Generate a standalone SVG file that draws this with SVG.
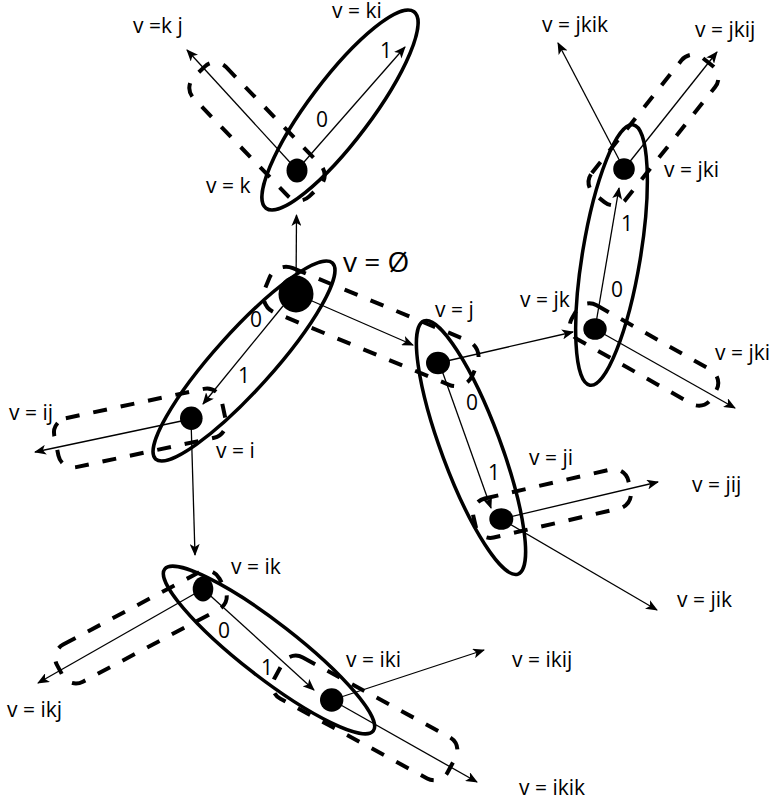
<svg xmlns="http://www.w3.org/2000/svg" width="777" height="806" viewBox="0 0 777 806">
<defs>
<style>
.cap{fill:none;stroke:#000;stroke-width:4;stroke-dasharray:14 14}
.ell{fill:none;stroke:#000;stroke-width:3.5}
.con{fill:none;stroke:#000;stroke-width:1.3;marker-end:url(#ah)}
.dot{fill:#000}
text{font-family:"Open Sans","Noto Sans","DejaVu Sans",sans-serif;font-size:21px;fill:#000}
.big{font-size:28px}
</style>
<marker id="ah" viewBox="0 0 12 10" refX="11" refY="5" markerWidth="12" markerHeight="10" markerUnits="userSpaceOnUse" orient="auto">
<path d="M0,0 L12,5 L0,10 L3,5 z" fill="#000"/>
</marker>
</defs>
<rect width="777" height="806" fill="#fff"/>
<g id="regions">
<rect class="cap" x="174" y="109" width="166" height="45" rx="15" transform="rotate(46 257 131.5)"/>
<rect class="cap" x="258.5" y="302.5" width="225" height="48" rx="18" transform="rotate(22.5 371 326.5)"/>
<rect class="cap" x="54.5" y="403" width="171" height="50" rx="15" transform="rotate(-12 140 428)"/>
<rect class="cap" x="49" y="606" width="184" height="42" rx="15" transform="rotate(-28 141 627)"/>
<rect class="cap" x="266.5" y="694.5" width="197" height="47" rx="15" transform="rotate(28.5 365 718)"/>
<rect class="cap" x="472.5" y="483.5" width="159" height="40" rx="15" transform="rotate(-13 552 503.5)"/>
<rect class="cap" x="563.5" y="335" width="161" height="39" rx="15" transform="rotate(29.5 644 354.5)"/>
<rect class="cap" x="566.5" y="108.5" width="174" height="43" rx="15" transform="rotate(-51.5 653.5 130)"/>
<ellipse class="ell" cx="244" cy="361" rx="132" ry="29" transform="rotate(-48 244 361)"/>
<ellipse class="ell" cx="340" cy="110" rx="123" ry="31" transform="rotate(-53 340 110)"/>
<ellipse class="ell" cx="471" cy="447.5" rx="135" ry="29.5" transform="rotate(69.6 471 447.5)"/>
<ellipse class="ell" cx="611.5" cy="255" rx="132" ry="29" transform="rotate(99.4 611.5 255)"/>
<ellipse class="ell" cx="269" cy="650" rx="132" ry="27.5" transform="rotate(37.8 269 650)"/>
</g>
<g id="connectors">
<line class="con" x1="296" y1="294" x2="296.5" y2="215"/>
<line class="con" x1="296" y1="294" x2="413" y2="345"/>
<line class="con" x1="283" y1="306" x2="203" y2="404"/>
<line class="con" x1="191" y1="419" x2="35" y2="452"/>
<line class="con" x1="191" y1="419" x2="195" y2="555"/>
<line class="con" x1="297" y1="170" x2="187" y2="50"/>
<line class="con" x1="297" y1="170" x2="405" y2="47"/>
<line class="con" x1="438" y1="363" x2="573" y2="332"/>
<line class="con" x1="440" y1="365" x2="491" y2="508"/>
<line class="con" x1="595" y1="329" x2="735" y2="408"/>
<line class="con" x1="595" y1="329" x2="619" y2="188"/>
<line class="con" x1="624" y1="169" x2="558" y2="43"/>
<line class="con" x1="624" y1="169" x2="717" y2="52"/>
<line class="con" x1="501" y1="519" x2="658" y2="482"/>
<line class="con" x1="501" y1="519" x2="657" y2="610"/>
<line class="con" x1="203" y1="589" x2="38" y2="683"/>
<line class="con" x1="203" y1="589" x2="314" y2="690"/>
<line class="con" x1="332" y1="700" x2="484" y2="650"/>
<line class="con" x1="332" y1="700" x2="477" y2="782"/>
</g>
<g id="edge-labels">
<text x="250" y="327">0</text>
<text x="238" y="383">1</text>
<text x="316" y="127">0</text>
<text x="380" y="58">1</text>
<text x="466" y="410">0</text>
<text x="488" y="480">1</text>
<text x="611" y="297">0</text>
<text x="621" y="231">1</text>
<text x="218" y="638">0</text>
<text x="261" y="675">1</text>
</g>
<g id="node-root"><ellipse class="dot" cx="296" cy="294" rx="17.5" ry="18.5"/><text class="big" x="343" y="272">v = Ø</text></g>
<g id="node-k"><ellipse class="dot" cx="297" cy="170.5" rx="10.5" ry="12"/><text x="206" y="193">v = k</text></g>
<g id="node-kj"><text x="133" y="33">v =k j</text></g>
<g id="node-ki"><text x="332" y="18">v = ki</text></g>
<g id="node-i"><ellipse class="dot" cx="191.3" cy="418.3" rx="11.3" ry="11.7"/><text x="216" y="458">v = i</text></g>
<g id="node-ij"><text x="9" y="420">v = ij</text></g>
<g id="node-ik"><ellipse class="dot" cx="203" cy="589" rx="10.3" ry="12.5"/><text x="231" y="574">v = ik</text></g>
<g id="node-ikj"><text x="7" y="717">v = ikj</text></g>
<g id="node-iki"><ellipse class="dot" cx="331.7" cy="700" rx="11.7" ry="11.7"/><text x="346" y="667">v = iki</text></g>
<g id="node-ikij"><text x="512" y="667">v = ikij</text></g>
<g id="node-ikik"><text x="519" y="795">v = ikik</text></g>
<g id="node-j"><ellipse class="dot" cx="438" cy="363" rx="12" ry="11.2"/><text x="435" y="317">v = j</text></g>
<g id="node-ji"><ellipse class="dot" cx="501.3" cy="519" rx="12" ry="10.8"/><text x="529" y="465">v = ji</text></g>
<g id="node-jij"><text x="692" y="492">v = jij</text></g>
<g id="node-jik"><text x="677" y="607">v = jik</text></g>
<g id="node-jk"><ellipse class="dot" cx="595" cy="329" rx="11.7" ry="10.8"/><text x="520" y="307">v = jk</text></g>
<g id="node-jki-b"><text x="715" y="360">v = jki</text></g>
<g id="node-jki"><ellipse class="dot" cx="624" cy="169" rx="10.8" ry="10.8"/><text x="664" y="177">v = jki</text></g>
<g id="node-jkik"><text x="542" y="32">v = jkik</text></g>
<g id="node-jkij"><text x="695" y="37">v = jkij</text></g>
</svg>
